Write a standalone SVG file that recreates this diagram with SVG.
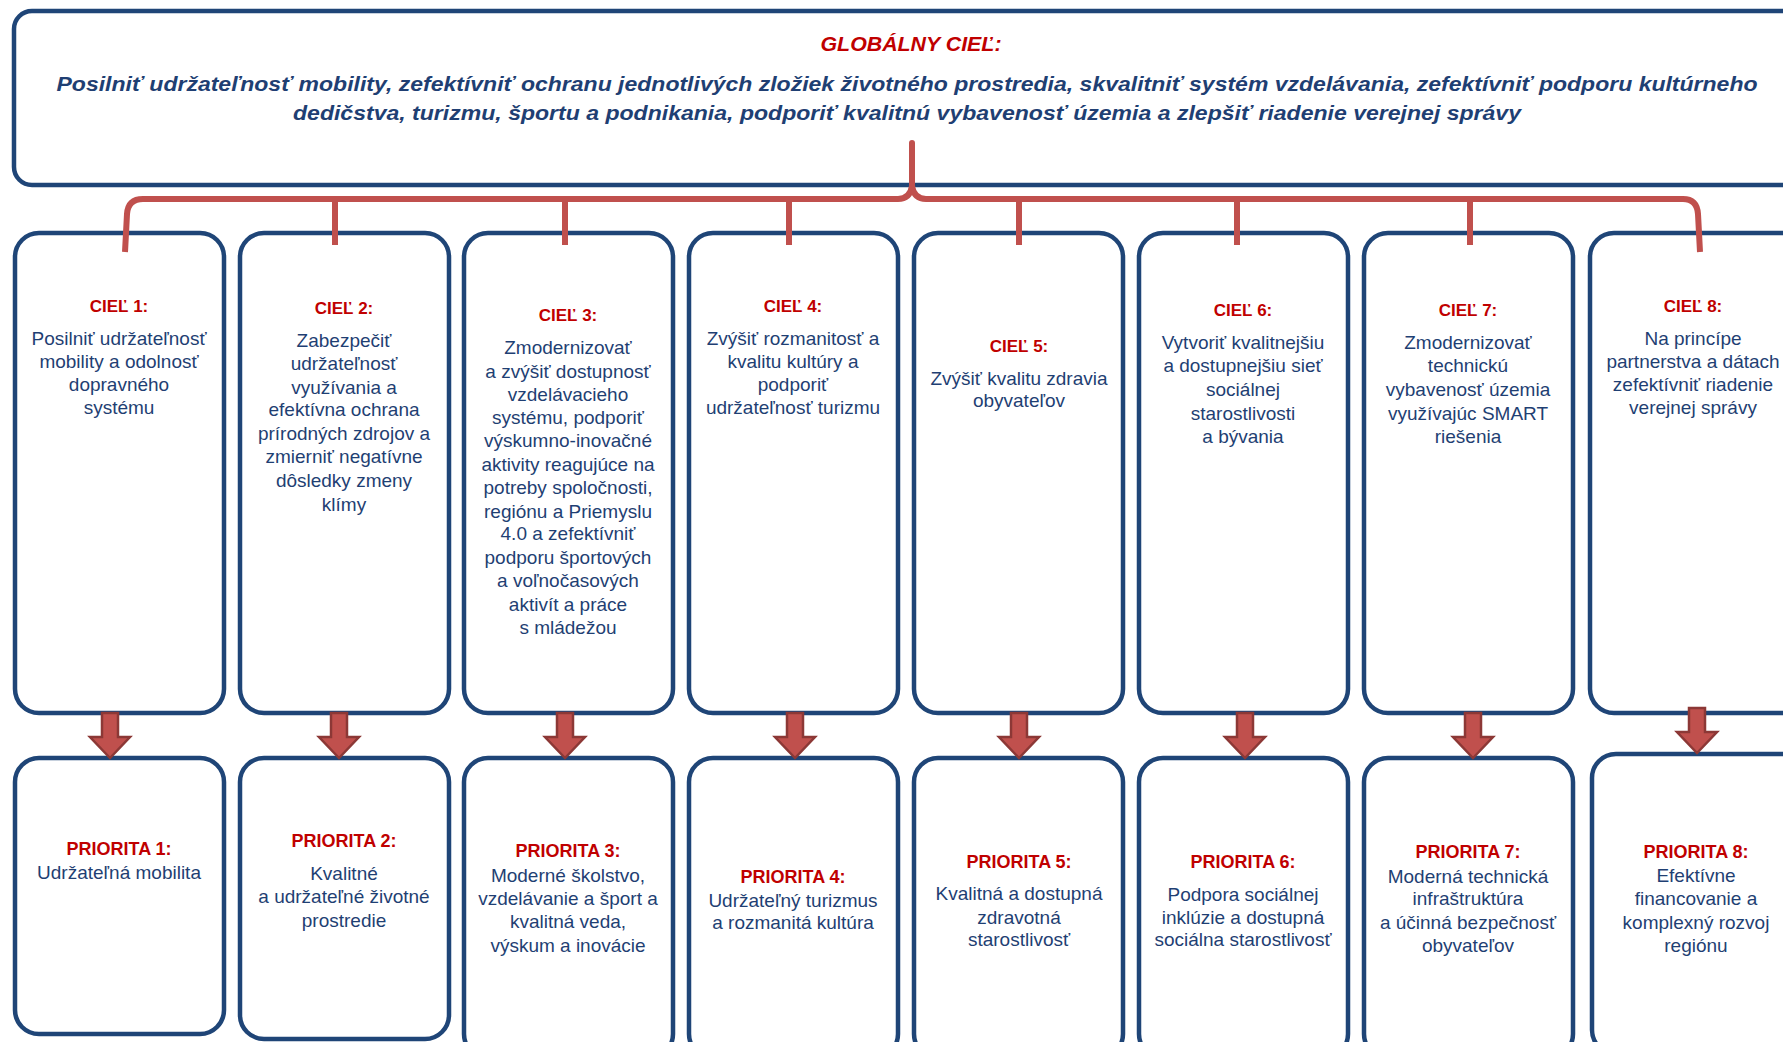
<svg xmlns="http://www.w3.org/2000/svg" width="1783" height="1042" viewBox="0 0 1783 1042">
<style>
.box{fill:#fff;stroke:#1F4577;stroke-width:4.5}
.hd{font-family:"Liberation Sans",Arial,sans-serif;font-weight:bold;fill:#C00000;text-anchor:middle}
.tx{font-family:"Liberation Sans",Arial,sans-serif;fill:#1F3F73;text-anchor:middle;font-size:19px}
.gl{font-family:"Liberation Sans",Arial,sans-serif;font-weight:bold;font-style:italic;text-anchor:middle}
.br{fill:none;stroke:#C0504D;stroke-width:6;stroke-linejoin:round}
.ar{fill:#C0504D;stroke:#8C3836;stroke-width:2.5}
</style>
<defs>
<path id="arrow" d="M -8 0 H 8 V 24 H 20 L 0 45 L -20 24 H -8 Z"/>
</defs>
<rect width="1783" height="1042" fill="#fff"/>

<g id="global">
<rect class="box" x="14" y="11" width="1800" height="174" rx="18"/>
<text class="gl" x="911" y="51" font-size="21" fill="#C00000" textLength="181" lengthAdjust="spacingAndGlyphs">GLOBÁLNY CIEĽ:</text>
<text class="gl" x="907" y="91" font-size="21" fill="#1F3F73" textLength="1701" lengthAdjust="spacingAndGlyphs">Posilniť udržateľnosť mobility, zefektívniť ochranu jednotlivých zložiek životného prostredia, skvalitniť systém vzdelávania, zefektívniť podporu kultúrneho</text>
<text class="gl" x="907" y="120" font-size="21" fill="#1F3F73" textLength="1228" lengthAdjust="spacingAndGlyphs">dedičstva, turizmu, športu a podnikania, podporiť kvalitnú vybavenosť územia a zlepšiť riadenie verejnej správy</text>
</g>

<g id="ciel1">
<rect class="box" x="15" y="233" width="209" height="480" rx="24"/>
<text class="hd" x="119" y="312" font-size="17">CIEĽ 1:</text>
<text class="tx" x="119" y="345">Posilniť udržateľnosť</text>
<text class="tx" x="119" y="368">mobility a odolnosť</text>
<text class="tx" x="119" y="391">dopravného</text>
<text class="tx" x="119" y="414">systému</text>
</g>
<g id="ciel2">
<rect class="box" x="240" y="233" width="209" height="480" rx="24"/>
<text class="hd" x="344" y="314" font-size="17">CIEĽ 2:</text>
<text class="tx" x="344" y="347">Zabezpečiť</text>
<text class="tx" x="344" y="370">udržateľnosť</text>
<text class="tx" x="344" y="394">využívania a</text>
<text class="tx" x="344" y="416">efektívna ochrana</text>
<text class="tx" x="344" y="440">prírodných zdrojov a</text>
<text class="tx" x="344" y="463">zmierniť negatívne</text>
<text class="tx" x="344" y="487">dôsledky zmeny</text>
<text class="tx" x="344" y="511">klímy</text>
</g>
<g id="ciel3">
<rect class="box" x="464" y="233" width="209" height="480" rx="24"/>
<text class="hd" x="568" y="321" font-size="17">CIEĽ 3:</text>
<text class="tx" x="568" y="354">Zmodernizovať</text>
<text class="tx" x="568" y="378">a zvýšiť dostupnosť</text>
<text class="tx" x="568" y="401">vzdelávacieho</text>
<text class="tx" x="568" y="424">systému, podporiť</text>
<text class="tx" x="568" y="447">výskumno-inovačné</text>
<text class="tx" x="568" y="471">aktivity reagujúce na</text>
<text class="tx" x="568" y="494">potreby spoločnosti,</text>
<text class="tx" x="568" y="518">regiónu a Priemyslu</text>
<text class="tx" x="568" y="540">4.0 a zefektívniť</text>
<text class="tx" x="568" y="564">podporu športových</text>
<text class="tx" x="568" y="587">a voľnočasových</text>
<text class="tx" x="568" y="611">aktivít a práce</text>
<text class="tx" x="568" y="634">s mládežou</text>
</g>
<g id="ciel4">
<rect class="box" x="689" y="233" width="209" height="480" rx="24"/>
<text class="hd" x="793" y="312" font-size="17">CIEĽ 4:</text>
<text class="tx" x="793" y="345">Zvýšiť rozmanitosť a</text>
<text class="tx" x="793" y="368">kvalitu kultúry a</text>
<text class="tx" x="793" y="391">podporiť</text>
<text class="tx" x="793" y="414">udržateľnosť turizmu</text>
</g>
<g id="ciel5">
<rect class="box" x="914" y="233" width="209" height="480" rx="24"/>
<text class="hd" x="1019" y="352" font-size="17">CIEĽ 5:</text>
<text class="tx" x="1019" y="385">Zvýšiť kvalitu zdravia</text>
<text class="tx" x="1019" y="407">obyvateľov</text>
</g>
<g id="ciel6">
<rect class="box" x="1139" y="233" width="209" height="480" rx="24"/>
<text class="hd" x="1243" y="316" font-size="17">CIEĽ 6:</text>
<text class="tx" x="1243" y="349">Vytvoriť kvalitnejšiu</text>
<text class="tx" x="1243" y="372">a dostupnejšiu sieť</text>
<text class="tx" x="1243" y="396">sociálnej</text>
<text class="tx" x="1243" y="420">starostlivosti</text>
<text class="tx" x="1243" y="443">a bývania</text>
</g>
<g id="ciel7">
<rect class="box" x="1364" y="233" width="209" height="480" rx="24"/>
<text class="hd" x="1468" y="316" font-size="17">CIEĽ 7:</text>
<text class="tx" x="1468" y="349">Zmodernizovať</text>
<text class="tx" x="1468" y="372">technickú</text>
<text class="tx" x="1468" y="396">vybavenosť územia</text>
<text class="tx" x="1468" y="420">využívajúc SMART</text>
<text class="tx" x="1468" y="443">riešenia</text>
</g>
<g id="ciel8">
<rect class="box" x="1590" y="233" width="220" height="480" rx="24"/>
<text class="hd" x="1693" y="312" font-size="17">CIEĽ 8:</text>
<text class="tx" x="1693" y="345">Na princípe</text>
<text class="tx" x="1693" y="368">partnerstva a dátach</text>
<text class="tx" x="1693" y="391">zefektívniť riadenie</text>
<text class="tx" x="1693" y="414">verejnej správy</text>
</g>

<g id="priorita1">
<rect class="box" x="15" y="758" width="209" height="276" rx="24"/>
<text class="hd" x="119" y="855" font-size="18">PRIORITA 1:</text>
<text class="tx" x="119" y="879">Udržateľná mobilita</text>
</g>
<g id="priorita2">
<rect class="box" x="240" y="758" width="209" height="281" rx="24"/>
<text class="hd" x="344" y="847" font-size="18">PRIORITA 2:</text>
<text class="tx" x="344" y="880">Kvalitné</text>
<text class="tx" x="344" y="903">a udržateľné životné</text>
<text class="tx" x="344" y="927">prostredie</text>
</g>
<g id="priorita3">
<rect class="box" x="464" y="758" width="209" height="300" rx="24"/>
<text class="hd" x="568" y="857" font-size="18">PRIORITA 3:</text>
<text class="tx" x="568" y="882">Moderné školstvo,</text>
<text class="tx" x="568" y="905">vzdelávanie a šport a</text>
<text class="tx" x="568" y="928">kvalitná veda,</text>
<text class="tx" x="568" y="952">výskum a inovácie</text>
</g>
<g id="priorita4">
<rect class="box" x="689" y="758" width="209" height="300" rx="24"/>
<text class="hd" x="793" y="883" font-size="18">PRIORITA 4:</text>
<text class="tx" x="793" y="907">Udržateľný turizmus</text>
<text class="tx" x="793" y="929">a rozmanitá kultúra</text>
</g>
<g id="priorita5">
<rect class="box" x="914" y="758" width="209" height="300" rx="24"/>
<text class="hd" x="1019" y="868" font-size="18">PRIORITA 5:</text>
<text class="tx" x="1019" y="900">Kvalitná a dostupná</text>
<text class="tx" x="1019" y="924">zdravotná</text>
<text class="tx" x="1019" y="946">starostlivosť</text>
</g>
<g id="priorita6">
<rect class="box" x="1139" y="758" width="209" height="300" rx="24"/>
<text class="hd" x="1243" y="868" font-size="18">PRIORITA 6:</text>
<text class="tx" x="1243" y="901">Podpora sociálnej</text>
<text class="tx" x="1243" y="924">inklúzie a dostupná</text>
<text class="tx" x="1243" y="946">sociálna starostlivosť</text>
</g>
<g id="priorita7">
<rect class="box" x="1364" y="758" width="209" height="300" rx="24"/>
<text class="hd" x="1468" y="858" font-size="18">PRIORITA 7:</text>
<text class="tx" x="1468" y="883">Moderná technická</text>
<text class="tx" x="1468" y="905">infraštruktúra</text>
<text class="tx" x="1468" y="929">a účinná bezpečnosť</text>
<text class="tx" x="1468" y="952">obyvateľov</text>
</g>
<g id="priorita8">
<rect class="box" x="1592" y="754" width="220" height="300" rx="24"/>
<text class="hd" x="1696" y="858" font-size="18">PRIORITA 8:</text>
<text class="tx" x="1696" y="882">Efektívne</text>
<text class="tx" x="1696" y="905">financovanie a</text>
<text class="tx" x="1696" y="929">komplexný rozvoj</text>
<text class="tx" x="1696" y="952">regiónu</text>
</g>

<g id="connectors">
<path class="br" d="M 125 252 L 127 214 Q 128 199 143 199 L 898 199 Q 910 199 912 186 L 912 143 L 912 186 Q 914 199 926 199 L 1683 199 Q 1697 199 1698 214 L 1700 252"/>
<path class="br" d="M 335 199 V 245 M 565 199 V 245 M 789 199 V 245 M 1019 199 V 245 M 1237 199 V 245 M 1470 199 V 245"/>
<use href="#arrow" class="ar" x="110" y="713"/>
<use href="#arrow" class="ar" x="339" y="713"/>
<use href="#arrow" class="ar" x="565" y="713"/>
<use href="#arrow" class="ar" x="795" y="713"/>
<use href="#arrow" class="ar" x="1019" y="713"/>
<use href="#arrow" class="ar" x="1245" y="713"/>
<use href="#arrow" class="ar" x="1473" y="713"/>
<use href="#arrow" class="ar" x="1697" y="708"/>
</g>
</svg>
